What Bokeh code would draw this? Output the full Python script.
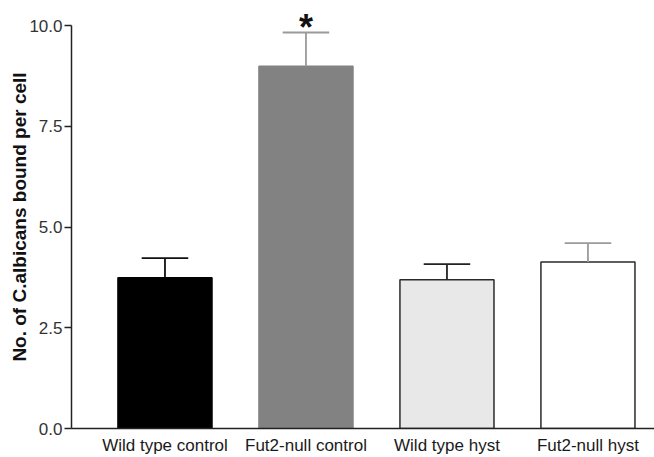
from bokeh.plotting import figure
from bokeh.models import ColumnDataSource, FixedTicker, Range1d, CustomJSTickFormatter
from bokeh.core.properties import value
from bokeh.embed import file_html
from bokeh.resources import INLINE

categories = ["Wild type control", "Fut2-null control", "Wild type hyst", "Fut2-null hyst"]
means = [3.74, 8.99, 3.69, 4.13]
errors = [0.49, 0.84, 0.39, 0.47]
signif = ["", "*", "", ""]
fills = ["#000000", "#828282", "#e8e8e8", "#ffffff"]
outlines = ["#000000", "#828282", "#2a2a2a", "#2a2a2a"]
err_colors = ["#111111", "#9a9a9a", "#222222", "#9a9a9a"]
y_ticks = [0.0, 2.5, 5.0, 7.5, 10.0]

xs = list(range(len(categories)))
tops = [m + e for m, e in zip(means, errors)]
half_cap = 0.165
src = ColumnDataSource(dict(
    x=xs, top=means, tip=tops, fill=fills, line=outlines, ecol=err_colors,
    cl=[x - half_cap for x in xs], cr=[x + half_cap for x in xs], sig=signif,
))

p = figure(width=654, height=457, output_backend="svg", toolbar_location=None,
           x_range=Range1d(-0.663, 3.472), y_range=Range1d(0, 10.5),
           min_border_left=71, min_border_right=0, min_border_top=5, min_border_bottom=28)
p.outline_line_color = None
p.grid.visible = False
p.background_fill_color = "white"
p.border_fill_color = "white"

p.vbar(x="x", top="top", bottom=0, width=0.667, source=src,
       fill_color="fill", line_color="line", line_width=1.5)
p.segment(x0="x", y0="top", x1="x", y1="tip", source=src, line_color="ecol", line_width=1.8)
p.segment(x0="cl", y0="tip", x1="cr", y1="tip", source=src, line_color="ecol", line_width=1.8)
p.text(x="x", y="tip", text="sig", source=src, text_align="center", text_baseline="alphabetic",
       text_font=value("Liberation Sans"), text_font_style="bold", text_font_size="36px",
       text_color="#111111", y_offset=-5)

yax = p.yaxis[0]
yax.ticker = FixedTicker(ticks=y_ticks)
yax.bounds = (0, 10)
yax.formatter = CustomJSTickFormatter(code="return tick.toFixed(1);")
yax.minor_tick_line_color = None
yax.major_tick_in = 0
yax.major_tick_out = 7
yax.axis_line_width = 1.5
yax.major_tick_line_width = 1.5
yax.axis_line_color = "#222222"
yax.major_tick_line_color = "#222222"
yax.major_label_text_font = "Liberation Sans"
yax.major_label_text_font_size = "17px"
yax.major_label_text_color = "#333333"
yax.major_label_standoff = 2
yax.axis_label = "No. of C.albicans bound per cell"
yax.axis_label_text_font = "Liberation Sans"
yax.axis_label_text_font_style = "bold"
yax.axis_label_text_font_size = "19px"
yax.axis_label_text_color = "#111111"
yax.axis_label_standoff = -4

xax = p.xaxis[0]
xax.ticker = FixedTicker(ticks=xs)
xax.major_label_overrides = {i: c for i, c in enumerate(categories)}
xax.major_tick_line_color = None
xax.major_tick_in = 0
xax.major_tick_out = 0
xax.minor_tick_line_color = None
xax.axis_line_width = 1.5
xax.axis_line_color = "#222222"
xax.major_label_text_font = "Liberation Sans"
xax.major_label_text_font_size = "17px"
xax.major_label_text_color = "#1a1a1a"
xax.major_label_standoff = 7

open("out.html", "w").write(file_html(p, INLINE))
